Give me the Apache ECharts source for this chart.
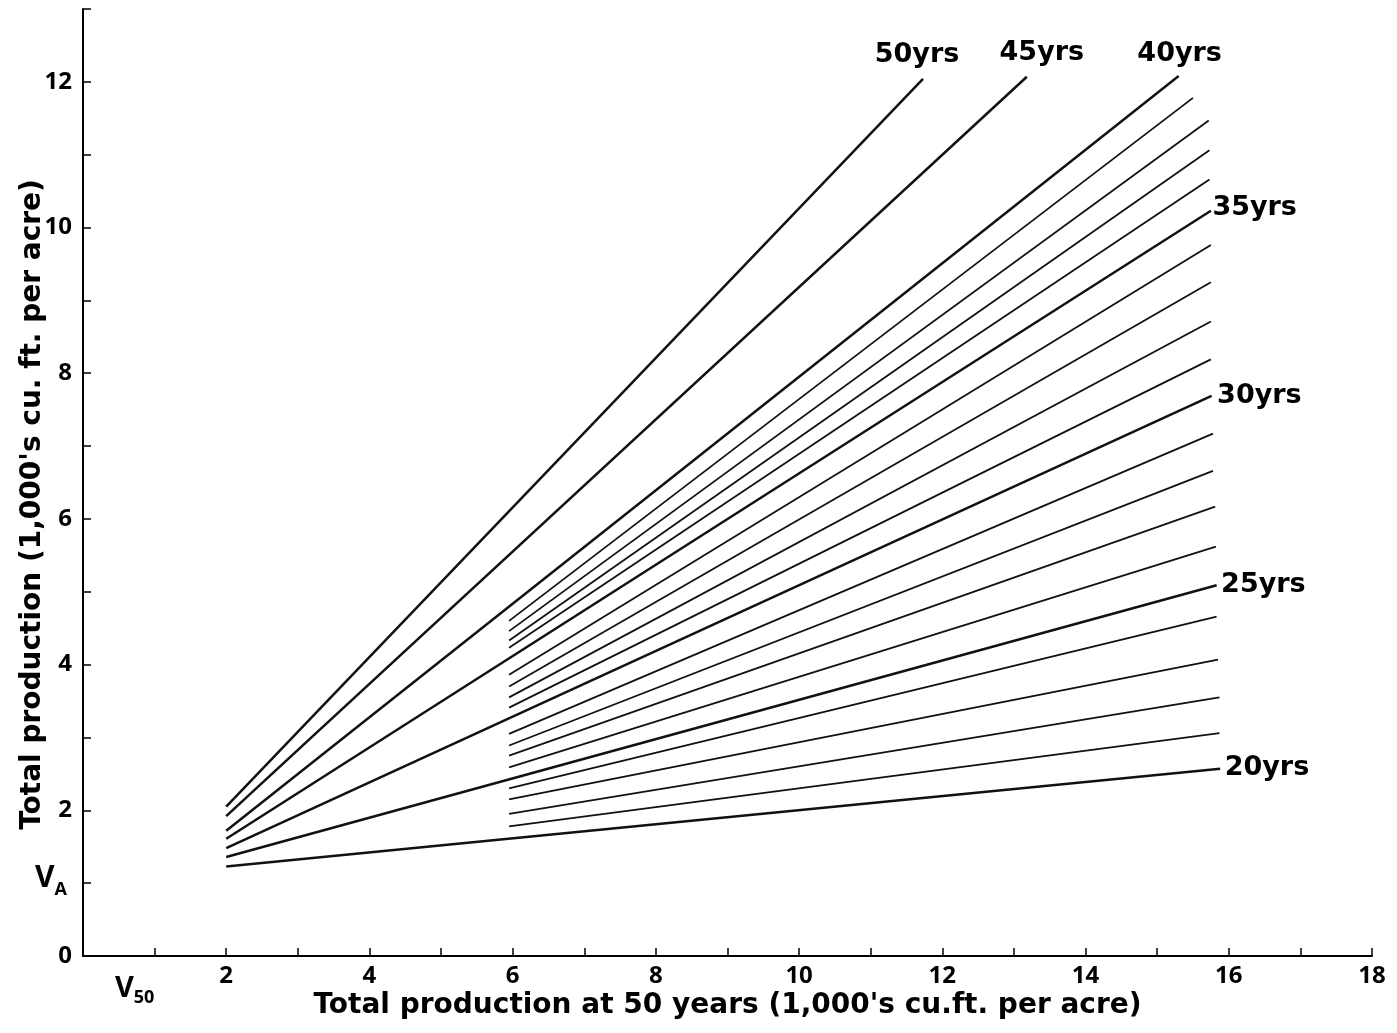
<!DOCTYPE html>
<html>
<head>
<meta charset="utf-8">
<script src="https://cdn.jsdelivr.net/npm/echarts@6/dist/echarts.min.js"></script>
<style>
html,body{margin:0;padding:0;background:#fff;}
#chart{width:1397px;height:1033px;}
</style>
</head>
<body>
<div id="chart"></div>
<script>
// Stand age (years) of each line
const years  = [50, 45, 40, 39, 38, 37, 36, 35, 34, 33, 32, 31, 30, 29, 28, 27, 26, 25, 24, 23, 22, 21, 20];
// V50 at line start / end (1,000's cu.ft. per acre)
const startX = [2, 2, 2, 5.95, 5.95, 5.95, 5.95, 2, 5.95, 5.95, 5.95, 5.95, 2, 5.95, 5.95, 5.95, 5.95, 2, 5.95, 5.95, 5.95, 5.95, 2];
const endX   = [11.73, 13.18, 15.30, 15.50, 15.72, 15.73, 15.73, 15.75, 15.75, 15.75, 15.75, 15.75, 15.76, 15.78, 15.78, 15.81, 15.82, 15.83, 15.83, 15.85, 15.87, 15.87, 15.88];
// VA at line start / end
const startY = [2.05, 1.92, 1.72, 4.60, 4.46, 4.33, 4.23, 1.61, 3.86, 3.70, 3.55, 3.41, 1.48, 3.05, 2.89, 2.75, 2.59, 1.36, 2.30, 2.15, 1.95, 1.78, 1.23];
const endY   = [12.04, 12.07, 12.08, 11.78, 11.47, 11.06, 10.66, 10.23, 9.76, 9.25, 8.71, 8.19, 7.69, 7.17, 6.66, 6.17, 5.62, 5.09, 4.66, 4.07, 3.55, 3.06, 2.57];
// Axis text
const xTitle = "Total production at 50 years (1,000's cu.ft. per acre)";
const yTitle = "Total production (1,000's cu. ft. per acre)";

const FONT = '"Open Sans", "DejaVu Sans", sans-serif';
const TFONT = '"DejaVu Sans", sans-serif';
const labelStyle = {
  50: {position: 'top', dx: -6, dy: -4.5},
  45: {position: 'top', dx: 15, dy: -4.5},
  40: {position: 'top', dx: 1, dy: -3.5},
  35: {position: 'right', dx: -4, dy: -2.5},
  30: {position: 'right', dx: 0, dy: 0},
  25: {position: 'right', dx: -1, dy: 0},
  20: {position: 'right', dx: -1, dy: -1}
};

const series = years.map(function (yr, i) {
  const major = yr % 5 === 0;
  const ls = labelStyle[yr];
  const last = {value: [endX[i], endY[i]]};
  if (ls) {
    last.label = {
      show: true,
      position: ls.position,
      formatter: yr + 'yrs',
      color: '#000',
      fontFamily: TFONT,
      fontWeight: 'bold',
      fontSize: 27,
      distance: 5
    };
  }
  return {
    type: 'line',
    name: yr + 'yrs',
    data: [[startX[i], startY[i]], last],
    symbol: 'circle',
    symbolSize: 1,
    showSymbol: true,
    showAllSymbol: true,
    silent: true,
    animation: false,
    lineStyle: {color: '#111', width: major ? 2.5 : 1.8},
    itemStyle: {color: 'rgba(0,0,0,0)', borderWidth: 0},
    label: {show: false},
    labelLayout: ls ? {hideOverlap: false, dx: ls.dx, dy: ls.dy} : {hideOverlap: false},
    z: major ? 3 : 2
  };
});

const chart = echarts.init(document.getElementById('chart'), null, {renderer: 'canvas'});
chart.setOption({
  backgroundColor: '#fff',
  animation: false,
  grid: {left: 83, right: 25, top: 9, bottom: 77, containLabel: false, outerBoundsMode: 'none'},
  xAxis: {
    type: 'value', min: 0, max: 18, interval: 1,
    name: xTitle, nameLocation: 'middle', nameGap: 36, nameMoveOverlap: false,
    nameTextStyle: {color: '#000', fontFamily: TFONT, fontWeight: 'bold', fontSize: 28},
    axisLine: {lineStyle: {color: '#000', width: 2}},
    axisTick: {inside: true, length: 8, lineStyle: {color: '#000', width: 1.5}},
    splitLine: {show: false},
    axisLabel: {
      margin: 8, color: '#000', fontFamily: FONT, fontWeight: 'bold', fontSize: 24,
      showMinLabel: true, showMaxLabel: true,
      formatter: function (v) {
        if (v === 1) return '{v|V}{s|50}';
        if (v === 0 || v % 2 !== 0) return '';
        return String(v);
      },
      rich: {
        v: {fontFamily: FONT, fontWeight: 'bold', fontSize: 29, color: '#000', padding: [7, 0, 0, 0]},
        s: {fontFamily: FONT, fontWeight: 'bold', fontSize: 18, color: '#000', padding: [25, 40, 0, 0]}
      }
    }
  },
  yAxis: {
    type: 'value', min: 0, max: 13, interval: 1,
    name: yTitle, nameLocation: 'middle', nameGap: 36, nameRotate: 90, nameMoveOverlap: false,
    nameTextStyle: {color: '#000', fontFamily: TFONT, fontWeight: 'bold', fontSize: 28, padding: [0, 44, 0, 0]},
    axisLine: {lineStyle: {color: '#000', width: 2}},
    axisTick: {inside: true, length: 8, lineStyle: {color: '#000', width: 1.5}},
    splitLine: {show: false},
    axisLabel: {
      margin: 11, color: '#000', fontFamily: FONT, fontWeight: 'bold', fontSize: 24,
      showMinLabel: true, showMaxLabel: true,
      formatter: function (v) {
        if (v === 1) return '{v|V}{s|A}';
        if (v % 2 !== 0) return '';
        return String(v);
      },
      rich: {
        v: {fontFamily: FONT, fontWeight: 'bold', fontSize: 30, color: '#000', padding: [0, 0, 10, 0]},
        s: {fontFamily: FONT, fontWeight: 'bold', fontSize: 18, color: '#000', padding: [14, 5, 0, 0]}
      }
    }
  },
  series: series
});
</script>
</body>
</html>
